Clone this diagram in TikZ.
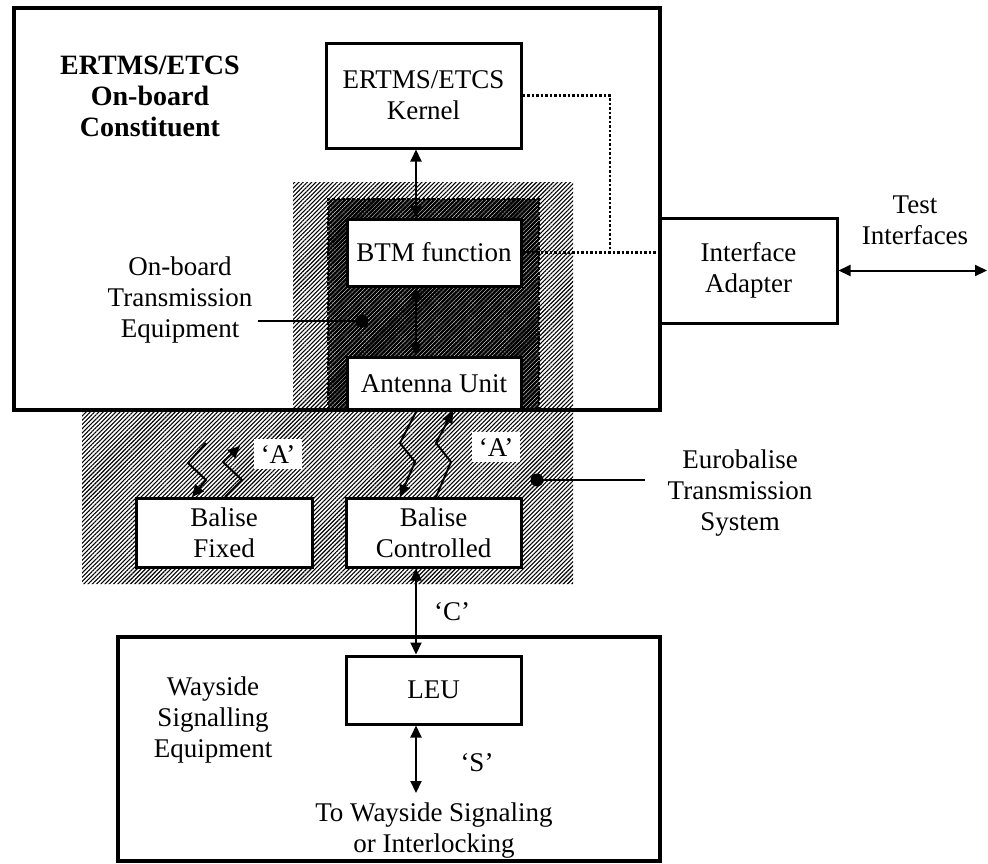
\documentclass[tikz,border=0pt]{standalone}
\usepackage{fontspec}
\setmainfont{Liberation Serif}
\usetikzlibrary{arrows.meta,patterns.meta}
\begin{document}
\begin{tikzpicture}[x=1pt,y=-1pt,
  every node/.style={font=\fontsize{27}{31}\selectfont, align=center, inner sep=0pt},
  boxn/.style={draw, line width=3pt, fill=white},
  bigbox/.style={draw, line width=4pt},
  dbl/.style={line width=2pt, {Triangle[length=12pt,width=11pt]}-{Triangle[length=12pt,width=11pt]}},
  sgl/.style={line width=2pt, -{Triangle[length=12pt,width=11pt]}},
  dotline/.style={line width=2.2pt, dash pattern=on 2.5pt off 2pt},
  lightpat/.style={pattern={Lines[angle=45,distance=3pt,line width=1.1pt]}},
  darkpat/.style={pattern={Lines[angle=45,distance=3pt,line width=2.5pt]}},
  quotebox/.style={fill=white, inner xsep=7pt, inner ysep=6pt}
]
\useasboundingbox (0,0) rectangle (988,863);

% hatched transmission areas
\path[lightpat] (293,182) -- (573,182) -- (573,584) -- (82,584) -- (82,410) -- (293,410) -- cycle;
\path[darkpat] (328,199) rectangle (539,410);
\draw[line width=2pt, dash pattern=on 3pt off 2pt] (328,410) -- (328,199) -- (539,199) -- (539,410);

% boxes
\node[boxn, minimum width=195pt, minimum height=105pt] (kernel) at (423.5,95.5) {ERTMS/ETCS\\Kernel};
\node[boxn, minimum width=174pt, minimum height=67pt] (btm) at (434,252.5) {BTM function};
\node[boxn, minimum width=174pt, minimum height=53pt] (ant) at (434,383.5) {Antenna Unit};
\node[boxn, minimum width=177pt, minimum height=105pt] (iface) at (748.5,270.5) {Interface\\Adapter};
\node[boxn, minimum width=176pt, minimum height=69pt] (bf) at (224,532.5) {Balise\\Fixed};
\node[boxn, minimum width=175pt, minimum height=69pt] (bc) at (433.5,532.5) {Balise\\Controlled};
\node[bigbox, minimum width=542pt, minimum height=224pt] (wayside) at (389,749) {};
\node[boxn, minimum width=175pt, minimum height=68pt] (leu) at (433.5,690) {LEU};
\node[bigbox, minimum width=646pt, minimum height=402pt] (onboard) at (337,209) {};

% labels
\node[font=\fontsize{28}{31}\selectfont\bfseries] (title) at (150,96) {ERTMS/ETCS\\On-board\\Constituent};
\node (obte) at (180,300) {On-board\\Transmission\\Equipment};
\node (ebts) at (740,493) {Eurobalise\\Transmission\\System};
\node (test) at (915,220) {Test\\Interfaces};
\node (wse) at (213,720) {Wayside\\Signalling\\Equipment};
\node (dest) at (434,831) {To Wayside Signaling\\or Interlocking};
\node (lc) at (452,612) {‘C’};
\node (ls) at (477,763) {‘S’};
\node[quotebox] (la1) at (278,454) {‘A’};
\node[quotebox] (la2) at (496,447) {‘A’};

% straight connectors
\coordinate (ax) at (416,0);
\draw[dbl] (ax |- kernel.south) -- (ax |- btm.north);
\draw[dbl] (ax |- btm.south) -- (ax |- ant.north);
\draw[dbl] (ax |- bc.south) -- (ax |- leu.north);
\coordinate (sEnd) at (416,793);
\draw[dbl] (ax |- leu.south) -- (sEnd);

\coordinate (dc) at (610,0);
\draw[dotline] (kernel.east) -| (dc |- btm.east);
\draw[dotline] (btm.east) -- (btm.east -| iface.west);

\coordinate (tEnd) at (987,270.5);
\draw[dbl] (iface.east |- tEnd) -- (tEnd);

% pointer dots
\coordinate (obteDot) at (362,321);
\coordinate (obteEnd) at (258,321);
\draw[line width=1.5pt] (obteEnd) -- (obteDot);
\fill (obteDot) circle[radius=6.5pt];
\coordinate (ebDot) at (537,480);
\coordinate (ebEnd) at (645,480);
\draw[line width=1.5pt] (ebDot) -- (ebEnd);
\fill (ebDot) circle[radius=6.5pt];

% radio zigzags, fixed balise
\coordinate (fa1) at (206,443); \coordinate (fa2) at (188,463); \coordinate (fa3) at (206,480); \coordinate (fa4) at (192,497);
\draw[sgl] (fa1) -- (fa2) -- (fa3) -- (fa4);
\coordinate (fb1) at (225,497); \coordinate (fb2) at (242,480); \coordinate (fb3) at (223,462); \coordinate (fb4) at (240,446);
\draw[sgl] (fb1) -- (fb2) -- (fb3) -- (fb4);

% radio zigzags, controlled balise
\coordinate (ca1) at (417,410); \coordinate (ca2) at (400,443); \coordinate (ca3) at (415,462); \coordinate (ca4) at (400,497);
\draw[sgl] (ca1) -- (ca2) -- (ca3) -- (ca4);
\coordinate (cb1) at (436,497); \coordinate (cb2) at (451,462); \coordinate (cb3) at (436,443); \coordinate (cb4) at (453,411);
\draw[sgl] (cb1) -- (cb2) -- (cb3) -- (cb4);
\end{tikzpicture}
\end{document}
